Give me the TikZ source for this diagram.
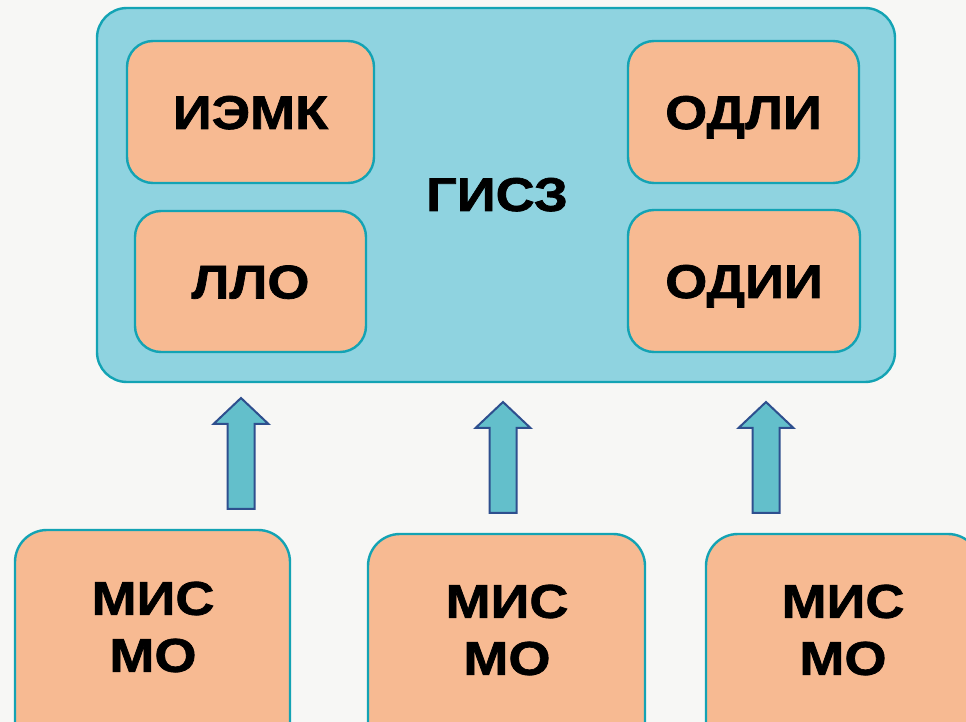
\documentclass[tikz,border=0pt]{standalone}
\usepackage{fontspec}
\setmainfont{Liberation Sans}
\newfontfamily\lblfont[FakeStretch=1.14, FakeBold=1.5]{Liberation Sans Bold}
\definecolor{bgc}{HTML}{F7F7F5}
\definecolor{bigfill}{HTML}{8FD3E0}
\definecolor{tealline}{HTML}{13A3B4}
\definecolor{orfill}{HTML}{F7BA92}
\definecolor{arrfill}{HTML}{63BFCB}
\definecolor{arrline}{HTML}{2E4F8E}
\tikzset{
  lbl/.style={font=\lblfont\fontsize{23.7}{28.5}\selectfont, text=black},
  bigbox/.style={draw=tealline, fill=bigfill, line width=1.2pt, rounded corners=15pt, inner sep=0pt},
  obox/.style={draw=tealline, fill=orfill, line width=1.2pt, rounded corners=13pt, inner sep=0pt, lbl, text height=17pt, text depth=0pt},
  mobox/.style={draw=tealline, fill=orfill, line width=1.2pt, rounded corners=16pt, inner sep=0pt},
  motext/.style={lbl, align=center, inner sep=0pt},
  blockarrow/.pic={
    \draw[fill=arrfill, draw=arrline, line width=1pt, line join=miter]
      (0,0) -- (27.5,26) -- (13.5,26) -- (13.5,111) -- (-13.5,111) -- (-13.5,26) -- (-27.5,26) -- cycle;
  }
}
\begin{document}
\begin{tikzpicture}[x=0.5pt, y=-0.5pt]
\useasboundingbox (0,0) rectangle (966,722);
\fill[bgc] (0,0) rectangle (966,722);
\begin{scope}
\clip (0,0) rectangle (966,722);
% big box
\node[bigbox, minimum width=399pt, minimum height=187pt] (gisz) at (496,195) {};
\node[lbl, text height=17pt, text depth=0pt, inner sep=0pt] (gisztext) at (497,194) {ГИСЗ};
\node[obox, minimum width=123.5pt, minimum height=71pt] (iemk) at (250.5,112) {ИЭМК};
\node[obox, minimum width=115.5pt, minimum height=70.5pt] (llo) at (250.5,281.5) {ЛЛО};
\node[obox, minimum width=115.5pt, minimum height=71pt] (odli) at (743.5,112) {ОДЛИ};
\node[obox, minimum width=116pt, minimum height=71pt] (odii) at (744,281) {ОДИИ};
% bottom boxes
\node[mobox, minimum width=137.5pt, minimum height=135pt] (mo1) at (152.5,665) {};
\node[mobox, minimum width=138.5pt, minimum height=135pt] (mo2) at (506.5,669) {};
\node[mobox, minimum width=137pt, minimum height=135pt] (mo3) at (843,669) {};
\node[motext] (mo1t) at (153,627) {МИС\\МО};
\node[motext] (mo2t) at (507,630) {МИС\\МО};
\node[motext] (mo3t) at (843,630) {МИС\\МО};
% arrows
\pic at (241,398) {blockarrow};
\pic at (503,402) {blockarrow};
\pic at (766,402) {blockarrow};
\end{scope}
\end{tikzpicture}
\end{document}
